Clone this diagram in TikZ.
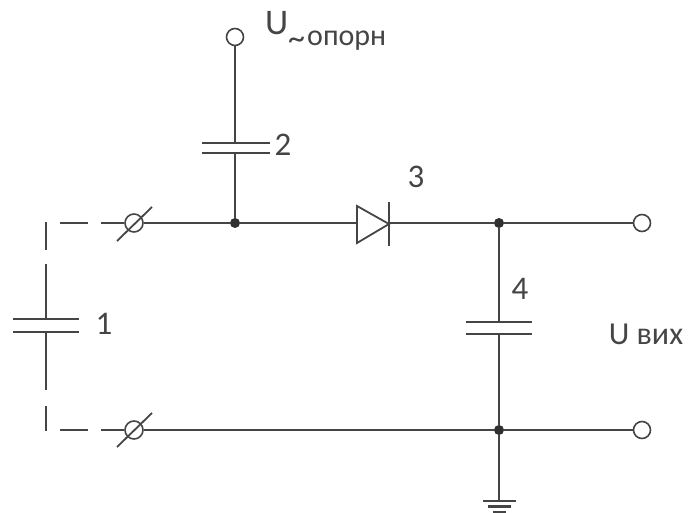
\documentclass[tikz,border=0pt]{standalone}
\usepackage{fontspec}
\setmainfont{Carlito}
\definecolor{ink}{gray}{0.27}
\begin{document}
\begin{tikzpicture}[x=1pt,y=-1pt,
  wire/.style={draw=ink,line width=1.8pt},
  plate/.style={draw=ink,line width=2pt},
  term/.style={circle,draw=ink,line width=1.6pt,fill=white,minimum size=17pt,inner sep=0pt},
  dotj/.style={circle,fill=ink!70!black,minimum size=10pt,inner sep=0pt},
  gap/.style={circle,draw=ink,line width=1.6pt,minimum size=18pt,inner sep=0pt},
  lab/.style={text=ink,inner sep=0pt,font=\fontsize{33}{35}\selectfont},
  lab2/.style={text=ink,inner sep=0pt,font=\fontsize{30}{32}\selectfont}]
\useasboundingbox (0,0) rectangle (688,513);
\clip (0,0) rectangle (688,513);
% anchors
\node[term] (T1) at (235,37) {};
\node[term] (T2) at (642,223) {};
\node[term] (T3) at (642,430) {};
\node[dotj] (J1) at (235,223) {};
\node[dotj] (J2) at (499,223) {};
\node[dotj] (J3) at (499,430) {};
\node[gap] (G1) at (134,223) {};
\node[gap] (G2) at (134,430) {};
\coordinate (G1a) at (117,241); \coordinate (G1b) at (152,207);
\coordinate (G2a) at (117,447); \coordinate (G2b) at (152,413);
% capacitor 2
\coordinate (C2t) at (235,143); \coordinate (C2b) at (235,153);
\draw[wire] (T1) -- (C2t);
\draw[plate] (202,143) -- (270,143);
\draw[plate] (202,153) -- (270,153);
\draw[wire] (C2b) -- (J1);
% main wire and diode
\coordinate (Da) at (357,223); \coordinate (Dk) at (389,223);
\draw[wire] (G1) -- (J1) -- (Da);
\draw[wire,line join=miter] (357,206) -- (389,224) -- (357,243) -- cycle;
\draw[plate] (389,202) -- (389,246);
\draw[wire] (Dk) -- (J2) -- (T2);
% capacitor 4
\coordinate (C4t) at (499,322); \coordinate (C4b) at (499,334);
\draw[wire] (J2) -- (C4t);
\draw[plate] (466,322) -- (532,322);
\draw[plate] (466,334) -- (532,334);
\draw[wire] (C4b) -- (J3);
% bottom wire
\draw[wire] (G2) -- (J3) -- (T3);
% slashes
\draw[wire] (G1a) -- (G1b);
\draw[wire] (G2a) -- (G2b);
% dashed link and capacitor 1
\coordinate (C1t) at (46,319); \coordinate (C1b) at (46,332);
\draw[wire] (60,223) -- (88,223);
\draw[wire] (101,223) -- (G1);
\draw[wire] (60,430) -- (88,430);
\draw[wire] (101,430) -- (G2);
\draw[wire] (46,222) -- (46,250);
\draw[wire] (46,264) -- (C1t);
\draw[plate] (13,319) -- (79,319);
\draw[plate] (13,332) -- (79,332);
\draw[wire] (C1b) -- (46,390);
\draw[wire] (46,406) -- (46,431);
% ground
\coordinate (Gnd) at (499,501);
\draw[wire] (J3) -- (Gnd);
\draw[plate] (483,501) -- (516,501);
\draw[plate,line width=3pt] (488,506) -- (511,506);
\draw[plate,line width=3pt] (493,512) -- (506,512);
% labels
\node[lab,anchor=base west,font=\fontsize{36}{38}\selectfont] (Lu) at (265,35) {U};
\node[lab2,anchor=base west,font=\fontsize{34}{36}\selectfont] (Lt) at (288,50) {\char"007E};
\node[lab2,anchor=base west] (Ls) at (307,46) {опорн};
\node[lab] (L1) at (104,324) {1};
\node[lab] (L2) at (283,145) {2};
\node[lab] (L3) at (416,177) {3};
\node[lab] (L4) at (520,289) {4};
\node[lab2,font=\fontsize{32}{34}\selectfont] (Lv) at (646,334) {U вих};
\end{tikzpicture}
\end{document}
